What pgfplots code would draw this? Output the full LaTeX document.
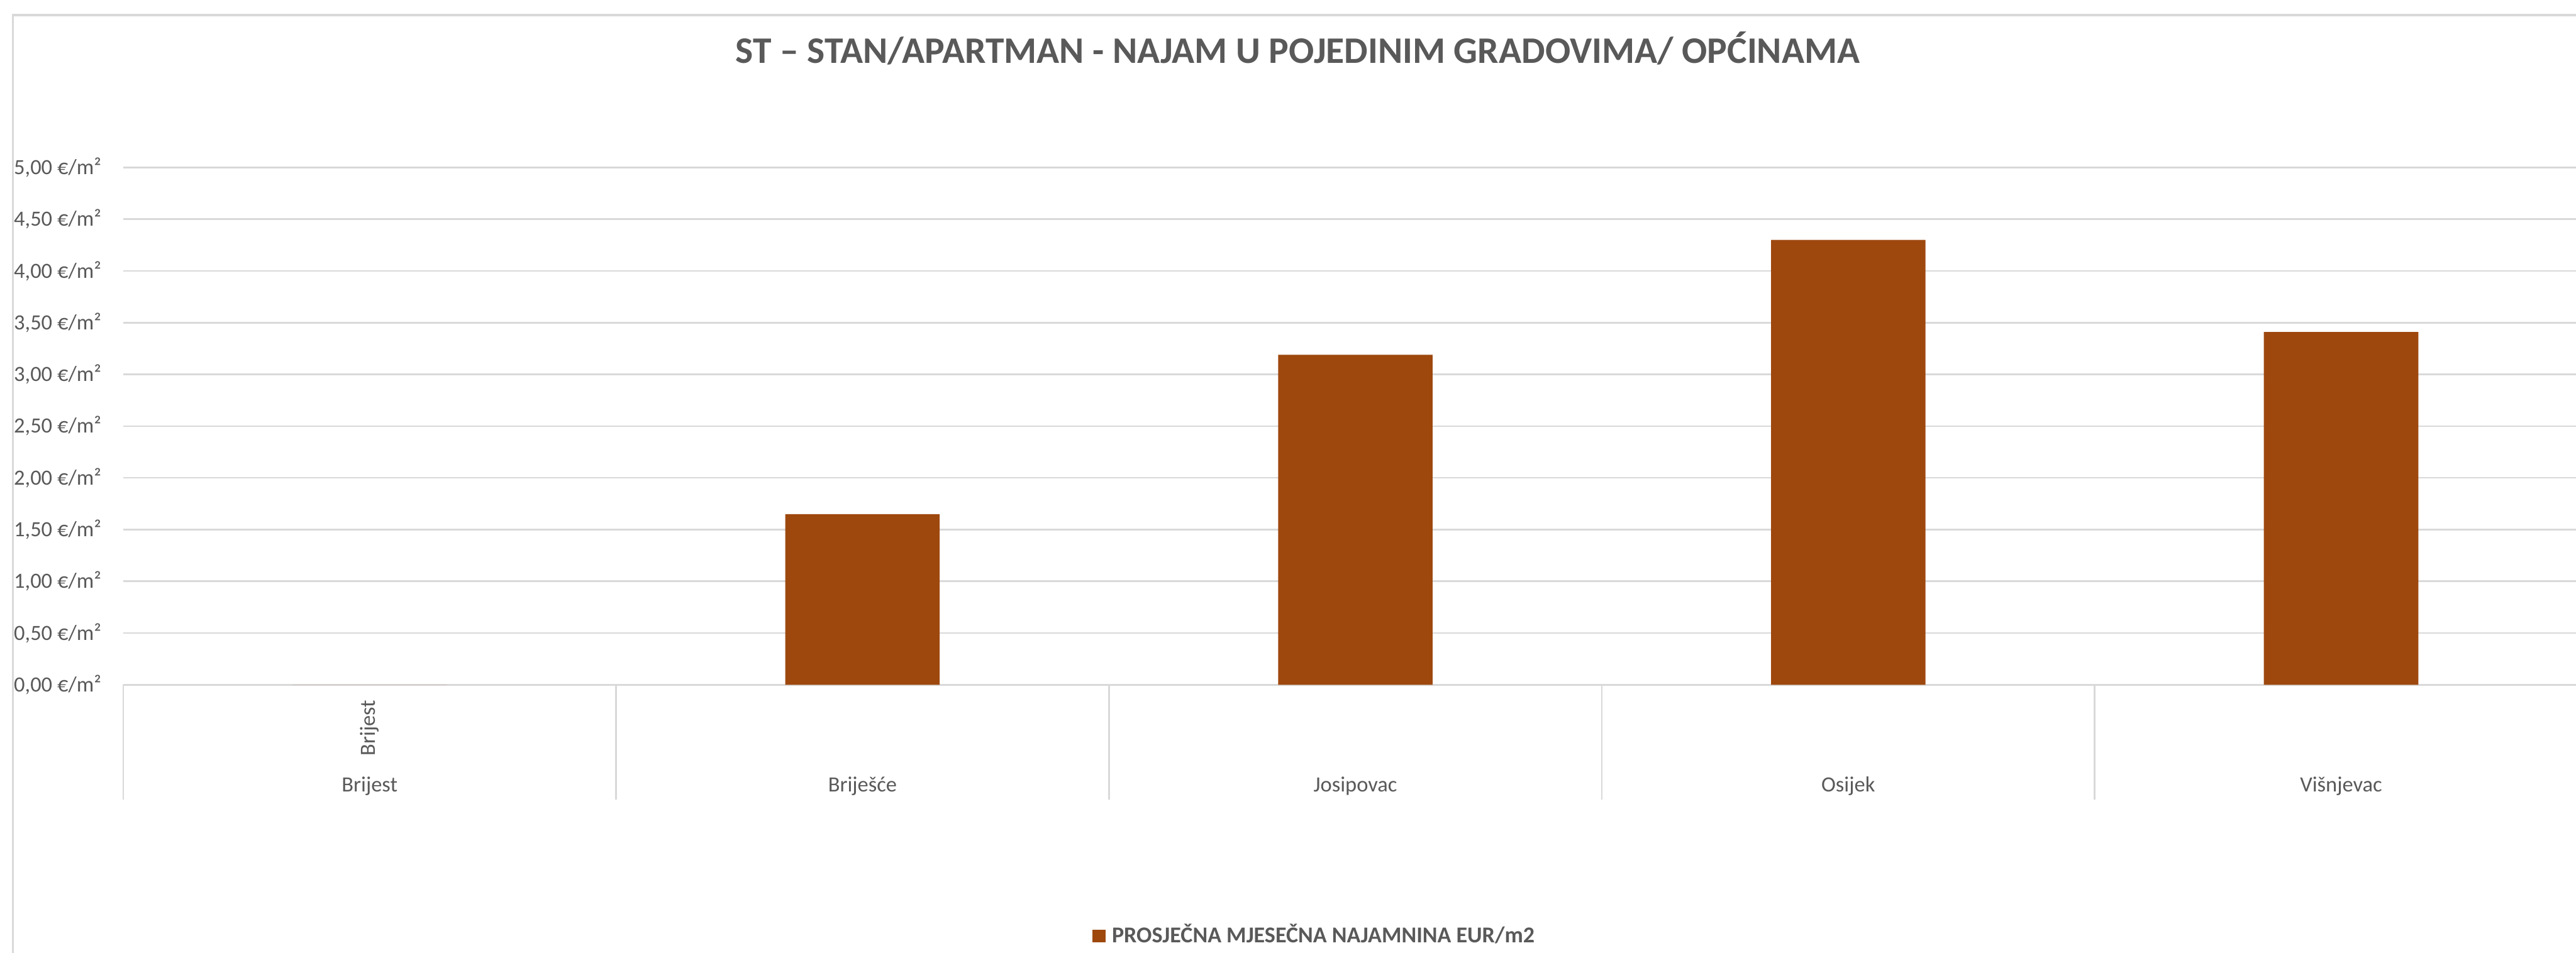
\documentclass[border=0pt]{standalone}
\usepackage{fontspec}
\setmainfont{Carlito}
\usepackage{pgfplots}
\pgfplotsset{compat=1.18}
\definecolor{barc}{HTML}{9E480E}
\definecolor{gridc}{HTML}{D9D9D9}
\definecolor{txt}{HTML}{595959}
\begin{document}
\begin{tikzpicture}[x=1pt,y=1pt]
\path[use as bounding box] (0,0) rectangle (784,290);
\draw[gridc, line width=0.6pt] (3.9,-5) -- (3.9,285.4) -- (800,285.4);
\node[font=\fontsize{11.4}{13.5}\selectfont\bfseries, text=txt, anchor=base, inner sep=0pt] at (395,270.8) {ST – STAN/APARTMAN - NAJAM U POJEDINIM GRADOVIMA/ OPĆINAMA};
\begin{axis}[
  at={(37.5pt,81.5pt)}, anchor=south west,
  scale only axis, width=750pt, height=157.5pt,
  xmin=-0.5, xmax=4.5, ymin=0, ymax=5,
  clip=false,
  axis line style={draw=none},
  major tick length=0pt,
  ytick={0,0.5,1,1.5,2,2.5,3,3.5,4,4.5,5},
  yticklabels={{0,00 €/m²},{0,50 €/m²},{1,00 €/m²},{1,50 €/m²},{2,00 €/m²},{2,50 €/m²},{3,00 €/m²},{3,50 €/m²},{4,00 €/m²},{4,50 €/m²},{5,00 €/m²}},
  ymajorgrids,
  grid style={gridc, line width=0.5pt},
  tick label style={font=\fontsize{6.6}{8}\selectfont, text=txt},
  yticklabel style={anchor=east, inner sep=0pt, xshift=-6.5pt},
  xtick={0,1,2,3,4},
  xticklabels={Brijest, Briješće, Josipovac, Osijek, Višnjevac},
  xticklabel style={anchor=center, inner sep=0pt, yshift=-30.8pt},
  legend style={at={(0.4843,-0.4857)}, anchor=center, draw=none, fill=none,
    font=\fontsize{6.9}{8}\selectfont\bfseries, text=txt,
    /tikz/every even column/.append style={column sep=0pt}},
  legend image code/.code={\fill[barc] (0pt,-2pt) rectangle (4pt,2pt);},
]
\addplot[ybar, bar width=47pt, fill=barc, draw=none]
  coordinates {(0,0) (1,1.65) (2,3.19) (3,4.30) (4,3.41)};
\addlegendentry{PROSJEČNA MJESEČNA NAJAMNINA EUR/m2}
\draw[gridc, line width=0.5pt] (axis cs:-0.5,0) -- ++(0pt,-35pt);
\draw[gridc, line width=0.5pt] (axis cs:0.5,0) -- ++(0pt,-35pt);
\draw[gridc, line width=0.5pt] (axis cs:1.5,0) -- ++(0pt,-35pt);
\draw[gridc, line width=0.5pt] (axis cs:2.5,0) -- ++(0pt,-35pt);
\draw[gridc, line width=0.5pt] (axis cs:3.5,0) -- ++(0pt,-35pt);
\draw[gridc, line width=0.5pt] (axis cs:4.5,0) -- ++(0pt,-35pt);
\path (axis cs:0,0) ++(0pt,-4.5pt) node[rotate=90, anchor=east, inner sep=0pt, font=\fontsize{6.6}{8}\selectfont, text=txt] {Brijest};
\end{axis}
\end{tikzpicture}
\end{document}
